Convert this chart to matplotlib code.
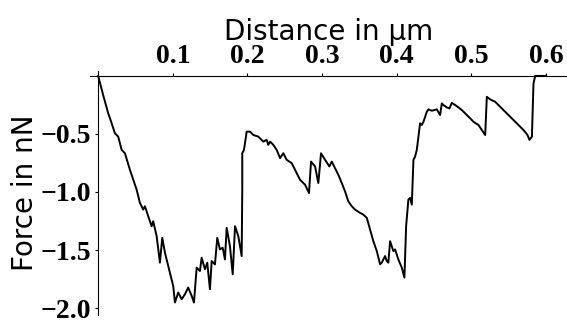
import numpy as np
import matplotlib
matplotlib.use('Agg')
import matplotlib.pyplot as plt

# distance in um, force in nN
distance = [0.0, 0.0067, 0.0134, 0.0166, 0.0224, 0.0268, 0.0314, 0.0358, 0.0425, 0.0515,
            0.0559, 0.0603, 0.0626, 0.0670, 0.0716, 0.0737, 0.0783, 0.0827, 0.0858, 0.0894,
            0.0961, 0.1005, 0.1028, 0.1072, 0.1118, 0.1162, 0.1206, 0.1252, 0.1283, 0.1319,
            0.1363, 0.1386, 0.1430, 0.1461, 0.1497, 0.1520, 0.1564, 0.1595, 0.1631, 0.1668,
            0.1698, 0.1721, 0.1765, 0.1802, 0.1833, 0.1877, 0.1922, 0.1930, 0.1930, 0.1953,
            0.1989, 0.2034, 0.2078, 0.2145, 0.2212, 0.2257, 0.2279, 0.2302, 0.2346, 0.2391,
            0.2436, 0.2480, 0.2525, 0.2592, 0.2637, 0.2704, 0.2771, 0.2824, 0.2851, 0.2905,
            0.2949, 0.2985, 0.3039, 0.3097, 0.3129, 0.3173, 0.3217, 0.3263, 0.3307, 0.3351,
            0.3397, 0.3441, 0.3508, 0.3552, 0.3598, 0.3642, 0.3686, 0.3732, 0.3776, 0.3799,
            0.3843, 0.3866, 0.3887, 0.3910, 0.3954, 0.3977, 0.4021, 0.4067, 0.4102, 0.4125,
            0.4155, 0.4178, 0.4201, 0.4223, 0.4245, 0.4268, 0.4312, 0.4335, 0.4357, 0.4402,
            0.4424, 0.4469, 0.4536, 0.4580, 0.4603, 0.4625, 0.4670, 0.4705, 0.4737, 0.4782,
            0.4826, 0.4871, 0.4916, 0.4983, 0.5027, 0.5094, 0.5139, 0.5184, 0.5206, 0.5251,
            0.5318, 0.5385, 0.5429, 0.5496, 0.5563, 0.5630, 0.5697, 0.5751, 0.5777, 0.5810,
            0.5831, 0.5854, 0.5988]
force = [0.0, -0.166, -0.322, -0.380, -0.494, -0.523, -0.637, -0.666, -0.809, -0.980,
         -1.094, -1.152, -1.123, -1.209, -1.295, -1.252, -1.381, -1.609, -1.395, -1.523,
         -1.695, -1.810, -1.952, -1.866, -1.924, -1.881, -1.823, -1.895, -1.952, -1.652,
         -1.681, -1.566, -1.666, -1.609, -1.838, -1.595, -1.624, -1.395, -1.495, -1.480,
         -1.581, -1.309, -1.467, -1.709, -1.295, -1.381, -1.552, -0.980, -0.666, -0.637,
         -0.480, -0.480, -0.509, -0.523, -0.566, -0.551, -0.594, -0.566, -0.594, -0.637,
         -0.708, -0.666, -0.723, -0.751, -0.809, -0.895, -0.937, -1.009, -0.738, -0.780,
         -0.923, -0.666, -0.723, -0.780, -0.738, -0.794, -0.852, -0.923, -0.995, -1.081,
         -1.123, -1.152, -1.180, -1.195, -1.223, -1.323, -1.424, -1.509, -1.623, -1.609,
         -1.552, -1.595, -1.609, -1.424, -1.509, -1.495, -1.581, -1.652, -1.738, -1.295,
         -1.066, -1.051, -1.109, -0.723, -0.695, -0.637, -0.408, -0.423, -0.395, -0.309,
         -0.288, -0.300, -0.288, -0.337, -0.237, -0.251, -0.271, -0.280, -0.232, -0.251,
         -0.271, -0.294, -0.322, -0.365, -0.395, -0.423, -0.466, -0.509, -0.180, -0.202,
         -0.223, -0.266, -0.294, -0.337, -0.380, -0.423, -0.466, -0.509, -0.551, -0.523,
         -0.065, 0.0, 0.0]

x_ticks = [0.1, 0.2, 0.3, 0.4, 0.5, 0.6]
y_ticks = [-0.5, -1.0, -1.5, -2.0]

fig = plt.figure(figsize=(5.67, 3.22), dpi=100)
ax = fig.add_axes([0.1587, 0.0217, 0.8413, 0.7587])

ax.plot(distance, force, color='black', lw=1.4)

ax.set_xlim(-0.011, 0.628)
ax.set_ylim(-2.06, 0.045)

ax.spines['right'].set_visible(False)
ax.spines['bottom'].set_visible(False)
ax.spines['left'].set_position(('data', 0))
ax.spines['top'].set_position(('data', 0))

ax.xaxis.set_ticks_position('top')
ax.xaxis.set_label_position('top')
ax.set_xticks(x_ticks)
ax.set_yticks(y_ticks)
ax.set_xticklabels(['%.1f' % v for v in x_ticks])
ax.set_yticklabels([('%.1f' % v).replace('-', '\u2212') for v in y_ticks])
ax.tick_params(length=2.5, width=0.8, pad=2.5)
for lab in ax.get_xticklabels() + ax.get_yticklabels():
    lab.set_fontfamily('Liberation Serif')
    lab.set_fontweight('bold')
    lab.set_fontsize(20)

ax.set_xlabel('Distance in µm', fontsize=20, labelpad=3)
ax.set_ylabel('Force in nN', fontsize=20, labelpad=1)

fig.savefig('out.png', dpi=100)
